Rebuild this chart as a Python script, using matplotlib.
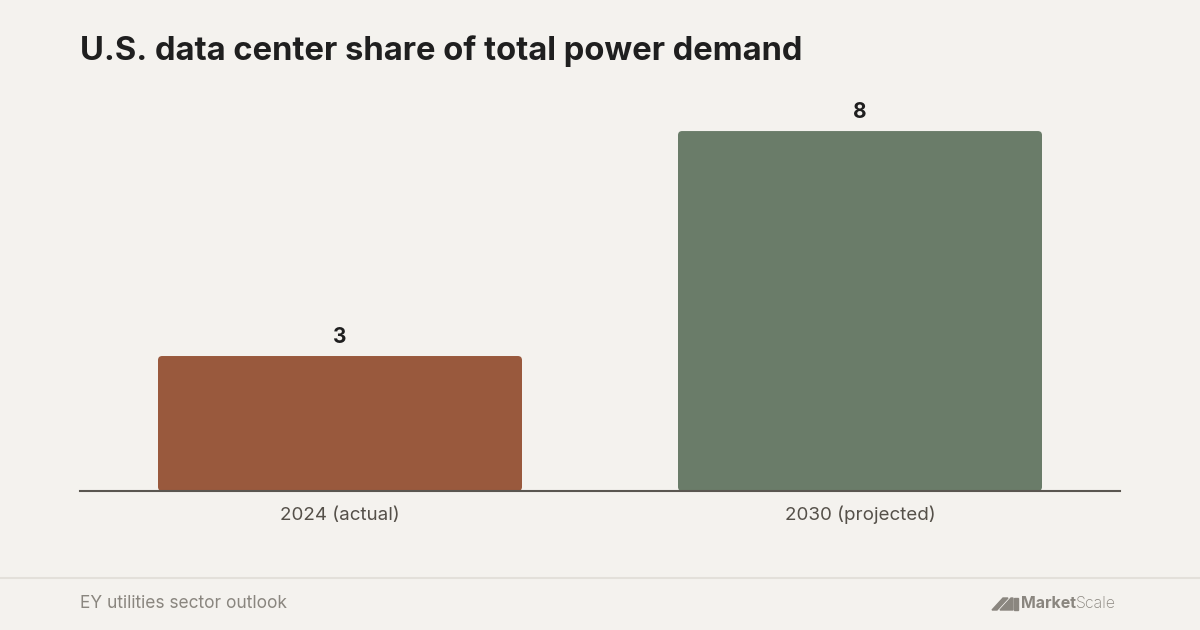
import matplotlib.pyplot as plt
from matplotlib.patches import FancyBboxPatch
from matplotlib.lines import Line2D

# Chart data
categories = ["2024 (actual)", "2030 (projected)"]
values = [3, 8]
bar_colors = ["#99593d", "#6a7c69"]

title = "U.S. data center share of total power demand"
source = "EY utilities sector outlook"

bg = "#f4f2ee"
plt.rcParams["font.family"] = ["Inter", "DejaVu Sans"]

fig = plt.figure(figsize=(12, 6.3), dpi=100, facecolor=bg)
ax = fig.add_axes([80 / 1200, 139 / 630, 1040 / 1200, 391 / 630])
ax.set_facecolor(bg)

x = list(range(len(categories)))
bars = ax.bar(x, values, width=0.7, color=bar_colors)
ax.set_xlim(-0.5, len(categories) - 0.5)
ax.set_ylim(0, 8.69)

# swap plain bars for slightly rounded ones
aspect = 520 / 45
for b, c in zip(bars, bar_colors):
    bx, by, bw, bh = b.get_x(), b.get_y(), b.get_width(), b.get_height()
    b.remove()
    ax.add_patch(FancyBboxPatch((bx, by), bw, bh,
                                boxstyle="round,pad=0,rounding_size=0.008",
                                mutation_aspect=aspect, facecolor=c,
                                edgecolor="none", zorder=2))

for xi, v in zip(x, values):
    ax.text(xi, v + 0.2, str(v), ha="center", va="bottom",
            fontsize=15, fontweight="bold", color="#1f1f1f")

# category labels on a shared baseline
ax.set_xticks([])
for xi, lab in zip(x, categories):
    ax.text(xi, -0.64, lab, ha="center", va="baseline", fontsize=13.5,
            color="#555049")

ax.set_yticks([])
for s in ["top", "right", "left"]:
    ax.spines[s].set_visible(False)
ax.spines["bottom"].set_color("#5a5650")
ax.spines["bottom"].set_linewidth(1.5)
ax.spines["bottom"].set_zorder(3)

fig.text(80 / 1200, 1 - 60 / 630, title, fontsize=23.6, fontweight="bold",
         color="#1f1f1f", ha="left", va="baseline")

# footer
fig.add_artist(Line2D([0, 1], [1 - 578 / 630] * 2, color="#e3e0da", lw=1.5))
fig.text(80 / 1200, 1 - 603 / 630, source, fontsize=12.5, color="#8a867f",
         ha="left", va="center")

# MarketScale logo
logo_c = "#8a867f"
W, H = 1200, 630
icon = [[(992, 610), (1003, 598), (1008, 598), (997, 610)],
        [(1000, 610), (1011, 598), (1013, 598), (1013, 610)],
        [(1014, 598), (1018, 598), (1018, 610), (1014, 610)]]
for pts in icon:
    poly = plt.Polygon([(px / W, 1 - py / H) for px, py in pts],
                       closed=True, color=logo_c, transform=fig.transFigure)
    fig.add_artist(poly)
t1 = fig.text(1021 / W, 1 - 604 / H, "Market", fontsize=11.5,
              fontweight="bold", color=logo_c, ha="left", va="center")
fig.canvas.draw()
bb = t1.get_window_extent()
fig.text(bb.x1 / W, 1 - 604 / H, "Scale", fontsize=11.5, fontweight="light",
         color=logo_c, ha="left", va="center")

fig.savefig("out.png", dpi=100, facecolor=bg)
